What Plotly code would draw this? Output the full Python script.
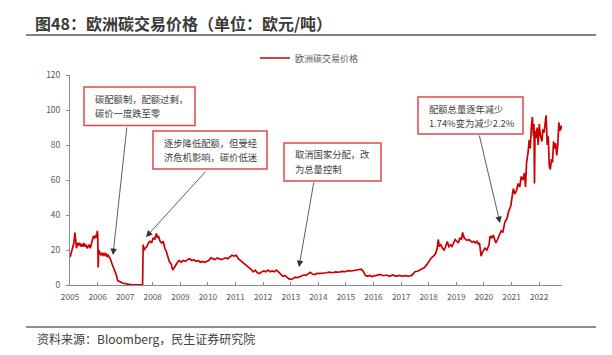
import plotly.graph_objects as go

# ---------------- data ----------------
dates = [
 "2005-01-03","2005-01-17","2005-02-07","2005-02-21","2005-03-07","2005-03-14","2005-03-28","2005-04-11","2005-04-25","2005-05-09",
 "2005-05-23","2005-06-06","2005-06-20","2005-07-04","2005-07-18","2005-08-01","2005-08-15","2005-08-29","2005-09-12","2005-09-26",
 "2005-10-10","2005-10-24","2005-11-07","2005-11-21","2005-12-05","2005-12-19","2005-12-28","2006-01-03","2006-01-09","2006-01-16",
 "2006-01-30","2006-02-13","2006-02-27","2006-03-13","2006-03-27","2006-04-10","2006-04-24","2006-05-08","2006-05-22","2006-06-05",
 "2006-06-19","2006-07-03","2006-07-24","2006-08-14","2006-09-04","2006-09-25","2006-10-16","2006-11-06","2006-12-04","2007-01-08",
 "2007-02-12","2007-04-02","2007-06-04","2007-08-20","2007-08-27","2007-09-10","2007-09-24","2007-10-15","2007-11-05","2007-11-26",
 "2007-12-17","2008-01-07","2008-01-28","2008-02-18","2008-03-03","2008-03-17","2008-04-07","2008-04-28","2008-05-19","2008-06-09",
 "2008-06-30","2008-07-21","2008-08-11","2008-09-01","2008-09-22","2008-10-13","2008-11-03","2008-11-24","2008-12-15","2009-01-12",
 "2009-02-09","2009-03-09","2009-04-06","2009-05-04","2009-06-01","2009-06-29","2009-07-27","2009-08-24","2009-09-21","2009-10-19",
 "2009-11-16","2009-12-14","2010-01-11","2010-02-08","2010-03-08","2010-04-05","2010-05-03","2010-05-31","2010-06-28","2010-07-26",
 "2010-08-23","2010-09-20","2010-10-18","2010-11-15","2010-12-13","2011-01-10","2011-02-07","2011-03-07","2011-04-04","2011-05-02",
 "2011-05-30","2011-06-27","2011-07-25","2011-08-22","2011-09-19","2011-10-17","2011-11-14","2011-12-12","2012-01-09","2012-02-06",
 "2012-03-05","2012-04-02","2012-04-30","2012-05-28","2012-06-25","2012-07-23","2012-08-20","2012-09-17","2012-10-15","2012-11-12",
 "2012-12-10","2013-01-07","2013-02-04","2013-03-04","2013-04-01","2013-04-29","2013-05-27","2013-06-24","2013-07-22","2013-08-19",
 "2013-09-16","2013-10-14","2013-11-11","2013-12-09","2014-01-20","2014-03-03","2014-04-14","2014-05-26","2014-07-07","2014-08-18",
 "2014-09-29","2014-11-10","2014-12-22","2015-02-02","2015-03-16","2015-04-27","2015-06-08","2015-07-20","2015-08-17","2015-09-14",
 "2015-10-12","2015-11-09","2015-12-07","2016-01-04","2016-02-15","2016-03-28","2016-05-09","2016-06-20","2016-08-01","2016-09-12",
 "2016-10-24","2016-12-05","2017-01-16","2017-02-27","2017-04-10","2017-05-22","2017-07-03","2017-08-14","2017-09-25","2017-11-06",
 "2017-12-04","2018-01-08","2018-02-05","2018-03-05","2018-04-02","2018-04-23","2018-05-07","2018-05-21","2018-06-11","2018-07-02",
 "2018-07-23","2018-08-13","2018-09-03","2018-09-24","2018-10-15","2018-11-05","2018-11-26","2018-12-17","2019-01-07","2019-01-28",
 "2019-02-18","2019-03-11","2019-03-25","2019-04-15","2019-05-06","2019-05-27","2019-06-17","2019-07-08","2019-07-29","2019-08-19",
 "2019-09-09","2019-09-30","2019-10-21","2019-11-04","2019-11-25","2019-12-16","2020-01-13","2020-02-10","2020-03-09","2020-03-23",
 "2020-04-13","2020-05-04","2020-05-18","2020-06-08","2020-06-29","2020-07-20","2020-08-17","2020-09-07","2020-10-05","2020-11-02",
 "2020-11-23","2020-12-21","2021-01-04","2021-01-25","2021-02-15","2021-03-08","2021-03-29","2021-04-19","2021-05-10","2021-05-31",
 "2021-06-21","2021-07-05","2021-07-19","2021-08-09","2021-08-23","2021-09-06","2021-09-20","2021-10-04","2021-10-18","2021-10-25",
 "2021-11-01","2021-11-08","2021-11-22","2021-12-06","2021-12-20","2022-01-03","2022-01-17","2022-02-07","2022-02-21","2022-03-07",
 "2022-03-21","2022-04-04","2022-04-18","2022-05-02","2022-05-16","2022-05-30","2022-06-13","2022-06-27","2022-07-11","2022-07-25",
 "2022-08-08","2022-08-22","2022-09-05","2022-09-19","2022-10-03","2022-10-17","2022-10-24",
]
prices = [
 16,18,21,24,30,27,21,24,23,24,
 22,23,22,24,22,23,21,22,23,21,
 24,27,28,27,28,27,31,29,10,20,
 18,17,18,17,18,17,18,16,17,16,
 15,13,11,9,6,2.5,2,1.5,1,0.6,
 0.3,0.1,0.05,0.05,23,20,21,22,24,25,
 24,27,26,29.5,27,28,25,24,25,21,
 19,16,13,12,8.5,10,12,13,14,13,
 14,13.5,14.5,15,14,14.5,13.5,14,13,13.5,
 13,13.5,14,15.5,15,14.5,15.5,15,14.5,15,
 15.5,15,16,17,16.5,17,15,14,13.5,12.5,
 11.5,10.5,9,7.5,8.5,7,6.5,7.5,8,7.5,
 8.5,7.5,8,7.5,8.5,7.5,6,5,5.5,4.5,
 3.5,3.2,4,4.5,4.2,4.8,5.3,5.7,5.5,6.3,
 7.2,6.3,6,6.5,6.5,6.8,7,7.3,7,7.5,
 7.3,7.8,7.6,8.2,8,8.4,8.6,9,8,5.5,
 5,5.5,4.8,5,5.7,6,5.3,5.7,5,5.8,
 5,5.5,5.1,5.3,5,5.5,7.6,8,9,10,
 11.5,14,15.5,16.5,18,21,26,22,23,21,
 20,22,24.8,22,23,22,24,26,25,24,
 27,26,30,27,26,25.5,26,25,24.5,25,
 24,25,23.5,24,16.5,19,21,20,23,28,
 27,28.5,26,24,26,28,31,30,36,38,
 42,45,50,55,52,54,58,56,62,60,
 64,56,70,76,83,78,90,96,85,92,
 58,88,84,90,80,92,86,82,89,87,
 92,97,80,85,68,66,72,70,82,78,
 81,74,80,93,88,91,89,
]
series_name = "欧洲碳交易价格"
y_ticks = [0, 20, 40, 60, 80, 100, 120]
x_tick_years = [str(y) for y in range(2005, 2023)]

notes = [
    ["碳配额制，配额过剩，", "碳价一度跌至零"],
    ["逐步降低配额，但受经", "济危机影响，碳价低迷"],
    ["取消国家分配，改", "为总量控制"],
    ["配额总量逐年减少", "1.74%变为减少2.2%"],
]

# ---------------- layout geometry ----------------
# The page body adds an 8px margin, so the figure is offset by 8px; all
# positions below are given in window pixels and shifted back by OFF.
OFF = 8
W, H = 612 - OFF, 355 - OFF
L, R, T, B = 70 - OFF, 50, 75 - OFF, 70
PW, PH = W - L - R, H - T - B

def px(xp):
    return (xp - OFF - L) / PW

def py(yp):
    return (H - B - (yp - OFF)) / PH

FONT = "Noto Sans CJK SC"
RED = "#CC0000"
BOXRED = "#E04848"
GRAY = "#595959"

fig = go.Figure()
fig.add_trace(go.Scatter(
    x=dates, y=prices, mode="lines", name=series_name,
    line=dict(color=RED, width=1.7),
))

shapes = []
annotations = []

# header / footer rules
shapes.append(dict(type="line", xref="paper", yref="paper", x0=px(26), x1=px(596), y0=py(35), y1=py(35),
                   line=dict(color="#5a5a5a", width=1.6)))
shapes.append(dict(type="line", xref="paper", yref="paper", x0=px(26), x1=px(596), y0=py(327), y1=py(327),
                   line=dict(color="#6a6a6a", width=1.6)))

# annotation boxes: (x0, y0, x1, y1), text left, line centres
boxes = [
    ((84, 87, 195, 125.5), 92.5, (98.5, 113)),
    ((153, 131, 267, 169), 161.5, (142.5, 156.5)),
    ((284, 143, 381, 181), 293, (153.5, 169)),
    ((418, 97, 523, 134), 426.5, (108.5, 122.5)),
]
for (bx, tx, ly), lines in zip(boxes, notes):
    x0, y0, x1, y1 = bx
    shapes.append(dict(type="rect", xref="paper", yref="paper", x0=px(x0), x1=px(x1), y0=py(y1), y1=py(y0),
                       line=dict(color=BOXRED, width=1.5), fillcolor="white", layer="above"))
    for txt, yy in zip(lines, ly):
        annotations.append(dict(xref="paper", yref="paper", x=px(tx), y=py(yy), text=txt, showarrow=False,
                                xanchor="left", yanchor="middle", font=dict(family=FONT, size=9.3, color="#404040")))

# arrows: tail (px) -> tip (px)
arrows = [((127, 126), (113, 255)), ((207, 170), (146, 237)), ((314, 181), (299, 267)), ((479, 134), (500, 223))]
for (tx, ty), (hx, hy) in arrows:
    annotations.append(dict(xref="paper", yref="paper", x=px(hx), y=py(hy), ax=tx - hx, ay=ty - hy,
                            axref="pixel", ayref="pixel", text="", showarrow=True, arrowhead=2,
                            arrowsize=1.6, arrowwidth=0.8, arrowcolor="#333333"))

# source line
annotations.append(dict(xref="paper", yref="paper", x=px(35), y=py(338.5), text="资料来源：Bloomberg，民生证券研究院",
                        showarrow=False, xanchor="left", yanchor="middle",
                        font=dict(family=FONT, size=12, color="#404040")))

fig.update_layout(
    width=W, height=H,
    margin=dict(l=L, r=R, t=T, b=B),
    paper_bgcolor="white", plot_bgcolor="white",
    font=dict(family=FONT, color=GRAY),
    title=dict(text="<b>图48：欧洲碳交易价格（单位：欧元/吨）</b>", x=(35 - OFF) / W, xanchor="left",
               xref="container", y=1 - (24.5 - OFF) / H, yanchor="middle", yref="container",
               font=dict(family=FONT, size=16, color="#3a3a3a")),
    showlegend=True,
    legend=dict(orientation="h", x=px(255), xanchor="left", y=py(58), yanchor="middle",
                font=dict(family=FONT, size=9, color=GRAY), bgcolor="rgba(0,0,0,0)",
                itemwidth=30, tracegroupgap=0),
    xaxis=dict(type="date", range=["2005-01-01", "2022-10-31"],
               tickvals=[f"{y}-01-01" for y in x_tick_years], ticktext=x_tick_years,
               showgrid=False, zeroline=False, showline=True, linecolor="#8c8c8c", linewidth=1,
               ticks="inside", ticklen=3, tickcolor="#8c8c8c", ticklabelstandoff=4,
               tickfont=dict(family=FONT, size=8.3, color=GRAY)),
    yaxis=dict(range=[0, 120], tickvals=y_ticks, showgrid=False, zeroline=False,
               showline=True, linecolor="#8c8c8c", linewidth=1, ticks="outside", ticklen=3,
               tickcolor="#8c8c8c", ticklabelstandoff=4,
               tickfont=dict(family=FONT, size=8.5, color=GRAY)),
    shapes=shapes, annotations=annotations,
)

fig.write_html("out.html")
